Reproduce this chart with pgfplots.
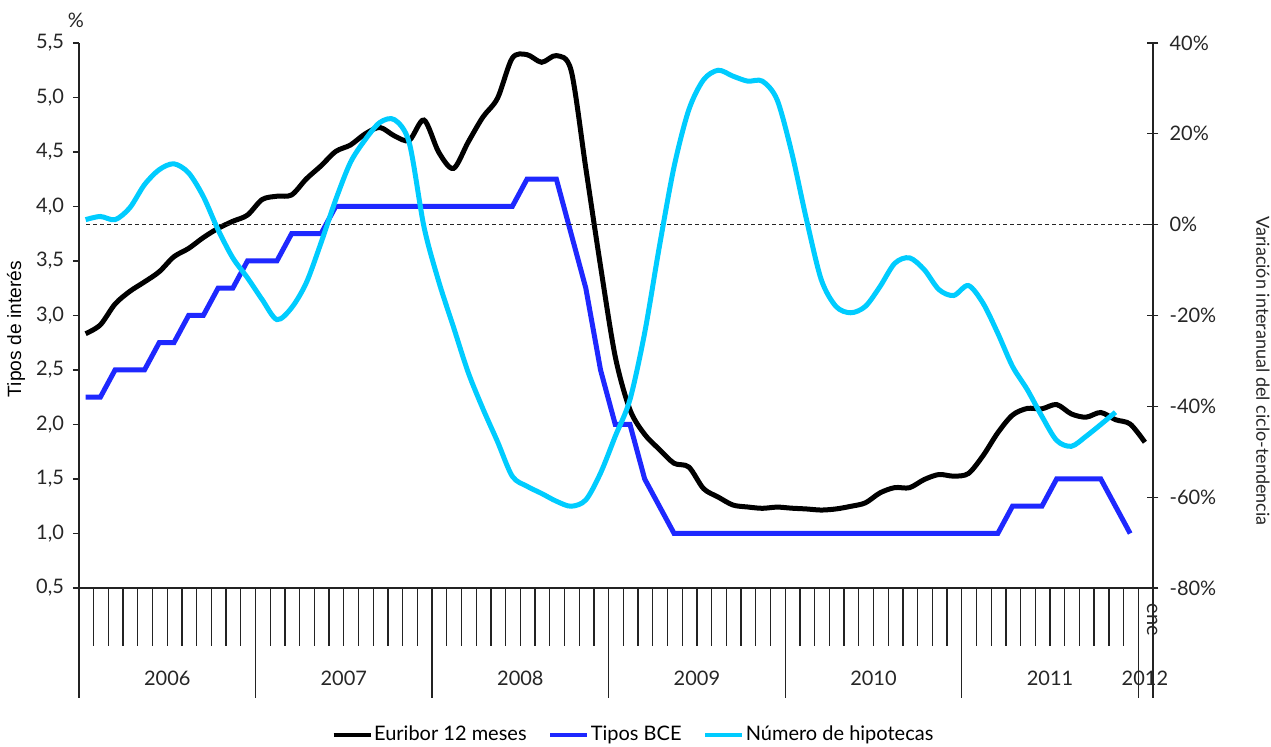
\documentclass[border=0pt]{standalone}
\usepackage{fontspec}
\setmainfont{Lato}
\newfontfamily\arialfont{Liberation Sans}
\usepackage{pgfplots}
\usepackage{pgfplotstable}
\pgfplotsset{compat=1.18}
\definecolor{bceblue}{RGB}{30,40,255}
\definecolor{hipcyan}{RGB}{0,204,255}
\definecolor{axisgray}{RGB}{35,35,35}

% Euribor 12 meses, ene 2006 - ene 2012
\pgfplotstableread{
v
2.833
2.914
3.105
3.221
3.308
3.401
3.539
3.615
3.715
3.799
3.864
3.921
4.064
4.094
4.106
4.253
4.373
4.505
4.564
4.666
4.725
4.647
4.607
4.793
4.498
4.349
4.590
4.820
4.994
5.361
5.393
5.323
5.384
5.248
4.350
3.452
2.622
2.135
1.909
1.771
1.644
1.610
1.412
1.334
1.261
1.243
1.231
1.242
1.232
1.225
1.215
1.225
1.249
1.281
1.373
1.421
1.420
1.495
1.541
1.526
1.550
1.714
1.924
2.086
2.147
2.144
2.183
2.097
2.067
2.110
2.044
2.004
1.837
}\eur

% Tipos BCE, ene 2006 - dic 2011
\pgfplotstableread{
v
2.25
2.25
2.50
2.50
2.50
2.75
2.75
3.00
3.00
3.25
3.25
3.50
3.50
3.50
3.75
3.75
3.75
4.00
4.00
4.00
4.00
4.00
4.00
4.00
4.00
4.00
4.00
4.00
4.00
4.00
4.25
4.25
4.25
3.75
3.25
2.50
2.00
2.00
1.50
1.25
1.00
1.00
1.00
1.00
1.00
1.00
1.00
1.00
1.00
1.00
1.00
1.00
1.00
1.00
1.00
1.00
1.00
1.00
1.00
1.00
1.00
1.00
1.00
1.25
1.25
1.25
1.50
1.50
1.50
1.50
1.25
1.00
}\bce

% Numero de hipotecas, variacion interanual (%), ene 2006 - nov 2011
\pgfplotstableread{
v
1.1
1.8
1.1
3.7
8.8
12.1
13.4
11.4
6.2
-1.1
-7.3
-11.7
-16.5
-20.9
-18.3
-12.8
-4.0
5.5
13.7
18.7
22.5
23.1
18.0
-0.5
-12.5
-22.5
-32.5
-40.5
-47.8
-55.4
-57.6
-59.2
-60.9
-62.0
-60.6
-54.7
-46.6
-38.5
-23.8
-4.8
12.8
25.3
31.9
34.0
32.7
31.6
31.6
27.5
15.8
1.1
-12.1
-18.0
-19.4
-18.0
-13.6
-8.5
-7.3
-9.9
-14.3
-15.6
-13.4
-17.3
-23.9
-31.2
-36.3
-42.2
-47.5
-48.8
-46.6
-44.0
-41.3
}\hip

\begin{document}
\begin{tikzpicture}[font=\fontsize{10}{12}\selectfont]
\path[use as bounding box] (-39.5pt,-79.5pt) rectangle (596pt,294pt);
\begin{axis}[
  at={(0,0)}, anchor=south west,
  scale only axis, width=537pt, height=272.5pt,
  xmin=0, xmax=73, ymin=0.5, ymax=5.5,
  clip=false,
  axis x line*=bottom, axis y line*=left,
  axis line style={line width=0.65pt, color=axisgray},
  xtick=\empty,
  ytick={0.5,1,...,5.5},
  tick align=outside, major tick length=3pt,
  tick style={line width=0.65pt, color=axisgray},
  yticklabel style={/pgf/number format/fixed, /pgf/number format/fixed zerofill,
    /pgf/number format/precision=1, /pgf/number format/use comma,
    /pgf/number format/assume math mode=true,
    font=\fontsize{10}{12}\selectfont, text=black!85, xshift=-1pt},
]
\addplot[black, line width=2.5pt, smooth, tension=0.5] table[x expr=\coordindex+0.45, y=v] {\eur};
\addplot[bceblue, line width=2.5pt] table[x expr=\coordindex+0.45, y=v] {\bce};
\pgfplotsinvokeforeach{1,...,71}{
  \draw[line width=0.65pt, axisgray] (axis cs:#1,0.5) -- (axis cs:#1,-0.032);
}
\pgfplotsinvokeforeach{0,12,24,36,48,60,72,73}{
  \draw[line width=0.65pt, axisgray] (axis cs:#1,0.5) -- (axis cs:#1,-0.509);
}
\node[text=black!85] at (axis cs:6,-0.326) {2006};
\node[text=black!85] at (axis cs:18,-0.326) {2007};
\node[text=black!85] at (axis cs:30,-0.326) {2008};
\node[text=black!85] at (axis cs:42,-0.326) {2009};
\node[text=black!85] at (axis cs:54,-0.326) {2010};
\node[text=black!85] at (axis cs:66,-0.326) {2011};
\node[text=black!85] at (axis cs:72.45,-0.326) {2012};
\node[rotate=-90, text=black!85, inner sep=0pt] at (axis cs:72.95,0.206) {ene};
\node[text=black!85] at (rel axis cs:-0.003,1.042) {\%};
\node[rotate=90, font=\arialfont\fontsize{9.6}{11}\selectfont] at (rel axis cs:-0.0587,0.475) {Tipos de interés};
\end{axis}
\begin{axis}[
  at={(0,0)}, anchor=south west,
  scale only axis, width=537pt, height=272.5pt,
  xmin=0, xmax=73, ymin=-80, ymax=40,
  clip=false,
  axis x line=none, axis y line*=right,
  axis line style={line width=0.65pt, color=axisgray},
  ytick={-80,-60,...,40},
  tick align=center, major tick length=5.5pt,
  tick style={line width=0.65pt, color=axisgray},
  yticklabel={\pgfmathprintnumber[assume math mode=true]{\tick}\%},
  yticklabel style={font=\fontsize{10}{12}\selectfont, text=black!85, xshift=2pt},
  legend columns=3,
  legend style={at={(rel axis cs:0.516,0)}, anchor=center, yshift=-73.5pt,
    draw=none, fill=none, font=\fontsize{10}{12}\selectfont,
    nodes={inner xsep=0.5pt, inner ysep=1pt},
    /tikz/every odd column/.append style={column sep=0.5pt},
    /tikz/every even column/.append style={column sep=10.5pt}},
  legend image code/.code={\draw[#1, line width=1.6pt] (0pt,0pt) -- (18.5pt,0pt);},
]
\addplot[forget plot, dashed, dash pattern=on 2pt off 1.5pt, line width=0.6pt, black!85] coordinates {(0.5,0) (73,0)};
\addlegendimage{black, line width=1.6pt}
\addlegendentry{Euribor 12 meses}
\addlegendimage{bceblue, line width=1.6pt}
\addlegendentry{Tipos BCE}
\addplot[hipcyan, line width=2.5pt, smooth, tension=0.5] table[x expr=\coordindex+0.45, y=v] {\hip};
\addlegendentry{Número de hipotecas}
\node[rotate=-90, text=black!85, font=\fontsize{9}{11}\selectfont] at (rel axis cs:1.1024,0.398) {Variación interanual del ciclo-tendencia};
\end{axis}
\end{tikzpicture}
\end{document}
